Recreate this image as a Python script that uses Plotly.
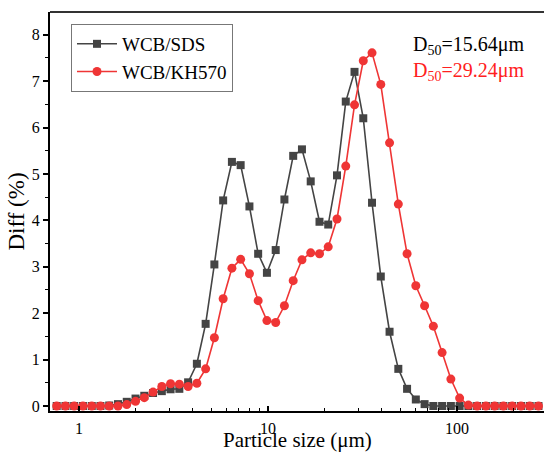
import plotly.graph_objects as go

size_um = [0.762, 0.848, 0.943, 1.049, 1.168, 1.299, 1.445, 1.608, 1.789, 1.991,
           2.215, 2.465, 2.743, 3.051, 3.395, 3.778, 4.203, 4.677, 5.202, 5.789,
           6.441, 7.165, 7.973, 8.868, 9.867, 10.98, 12.21, 13.59, 15.12, 16.82,
           18.72, 20.82, 23.17, 25.78, 28.68, 31.91, 35.50, 39.50, 43.95, 48.90,
           54.40, 60.52, 67.34, 74.92, 83.36, 92.75, 103.2, 114.8, 127.7, 142.1,
           158.1, 175.9, 195.7, 217.8, 242.3, 269.6]

wcb_sds = [0, 0, 0, 0, 0, 0, 0.01, 0.04, 0.09, 0.16,
           0.22, 0.28, 0.32, 0.36, 0.37, 0.51, 0.91, 1.77, 3.05, 4.43,
           5.26, 5.19, 4.30, 3.28, 2.87, 3.36, 4.45, 5.39, 5.53, 4.84,
           3.97, 3.91, 4.97, 6.56, 7.20, 6.20, 4.38, 2.79, 1.60, 0.80,
           0.37, 0.14, 0.04, 0, 0, 0, 0, 0, 0, 0,
           0, 0, 0, 0, 0, 0]

wcb_kh570 = [0, 0, 0, 0, 0, 0, 0, 0, 0.03, 0.10,
             0.18, 0.30, 0.42, 0.48, 0.47, 0.42, 0.49, 0.80, 1.47, 2.31,
             2.97, 3.16, 2.85, 2.27, 1.84, 1.80, 2.16, 2.70, 3.15, 3.30,
             3.28, 3.43, 4.03, 5.17, 6.49, 7.44, 7.61, 6.93, 5.67, 4.35,
             3.28, 2.59, 2.16, 1.72, 1.15, 0.58, 0.17, 0.02, 0, 0,
             0, 0, 0, 0, 0, 0]

x_ticks = [1, 10, 100]
x_tick_labels = ["1", "10", "100"]
x_minor = [2, 3, 4, 5, 6, 7, 8, 9, 20, 30, 40, 50, 60, 70, 80, 90, 200, 300]
y_ticks = [0, 1, 2, 3, 4, 5, 6, 7, 8]
x_title = "Particle size (μm)"
y_title = "Diff (%)"
d50_labels = ["D<sub>50</sub>=15.64μm", "D<sub>50</sub>=29.24μm"]

BLACK = "#444444"
RED = "#ef3535"
FONT = "Liberation Serif"

fig = go.Figure()
fig.add_trace(go.Scatter(
    x=size_um, y=wcb_sds, mode="lines+markers", name="WCB/SDS",
    line=dict(color=BLACK, width=1.6),
    marker=dict(symbol="square", size=8, color=BLACK),
))
fig.add_trace(go.Scatter(
    x=size_um, y=wcb_kh570, mode="lines+markers", name="WCB/KH570",
    line=dict(color=RED, width=1.6),
    marker=dict(symbol="circle", size=9, color=RED),
))

fig.update_layout(
    width=544, height=452,
    margin=dict(l=50, r=0, t=12, b=41, autoexpand=False),
    paper_bgcolor="white", plot_bgcolor="white",
    font=dict(family=FONT, size=16, color="black"),
    showlegend=True,
    legend=dict(
        x=0.0425, y=0.970, xanchor="left", yanchor="top",
        bgcolor="rgba(255,255,255,0)", bordercolor="#777777", borderwidth=1,
        font=dict(family=FONT, size=19, color="black"),
        tracegroupgap=0, itemwidth=40,
    ),
    xaxis=dict(
        type="log", range=[-0.1534, 2.460],
        tickvals=x_ticks, ticktext=x_tick_labels,
        ticks="inside", ticklen=5, tickwidth=1.5, tickcolor="black",
        ticklabelstandoff=2,
        minor=dict(tickvals=x_minor, ticks="inside", ticklen=3, tickwidth=1.2, tickcolor="black"),
        showline=True, linecolor="black", linewidth=2, mirror=False,
        showgrid=False, zeroline=False,
        tickfont=dict(family=FONT, size=16),
        automargin=False,
    ),
    yaxis=dict(
        range=[-0.108, 8.49],
        tickvals=y_ticks,
        ticks="outside", ticklen=5, tickwidth=1.5, tickcolor="black",
        minor=dict(dtick=0.5, ticks="outside", ticklen=3, tickwidth=1.2, tickcolor="black"),
        showline=True, linecolor="black", linewidth=2, mirror=False,
        showgrid=False, zeroline=False,
        tickfont=dict(family=FONT, size=16),
        title=dict(text=y_title, font=dict(family=FONT, size=23), standoff=1),
        automargin=True,
    ),
)

fig.add_shape(type="line", xref="paper", yref="paper", x0=0, x1=1, y0=1, y1=1,
              line=dict(color="#333333", width=2))

fig.add_annotation(xref="paper", yref="paper", x=0.5, y=-0.073, xanchor="center", yanchor="middle",
                   text=x_title, showarrow=False,
                   font=dict(family=FONT, size=21, color="black"))

fig.add_annotation(xref="paper", yref="paper", x=0.73, y=0.915, xanchor="left", yanchor="middle",
                   text=d50_labels[0], showarrow=False,
                   font=dict(family=FONT, size=20, color="black"))
fig.add_annotation(xref="paper", yref="paper", x=0.73, y=0.852, xanchor="left", yanchor="middle",
                   text=d50_labels[1], showarrow=False,
                   font=dict(family=FONT, size=20, color="#ff2020"))

fig.write_html("out.html", config={"displayModeBar": False},
               post_script="document.body.style.margin='0';document.body.style.overflow='hidden';")
